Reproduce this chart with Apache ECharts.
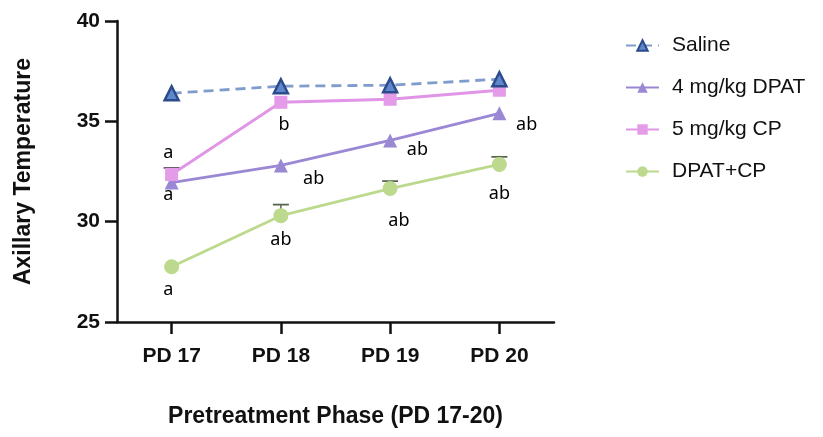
<!DOCTYPE html>
<html>
<head>
<meta charset="utf-8">
<script src="https://cdn.jsdelivr.net/npm/echarts@6/dist/echarts.min.js"></script>
<style>
  html, body { margin: 0; padding: 0; background: #fff; }
  #chart { width: 823px; height: 437px; }
</style>
</head>
<body>
<div id="chart"></div>
<script>
// ---- data ----
const categories = ['PD 17', 'PD 18', 'PD 19', 'PD 20'];
const yTicks = [25, 30, 35, 40];
const seriesNames = ['Saline', '4 mg/kg DPAT', '5 mg/kg CP', 'DPAT+CP'];
const saline = [36.4, 36.75, 36.8, 37.1];
const dpat = [31.95, 32.8, 34.05, 35.4];
const cp = [32.35, 35.95, 36.1, 36.55];
const dpatCp = [27.75, 30.3, 31.65, 32.85];
const cpErrUp = [0.33, 0, 0, 0];
const dpatCpErrUp = [0, 0.55, 0.37, 0.38];
// significance letters: position on category scale, temperature value, text
const annotCat = [-0.03, -0.03, -0.03, 1.03, 1.30, 1.0, 2.25, 2.08, 3.25, 3.0];
const annotVal = [33.45, 31.35, 26.6, 34.8, 32.15, 29.1, 33.6, 30.05, 34.8, 31.4];
const annotText = ['a', 'a', 'a', 'b', 'ab', 'ab', 'ab', 'ab', 'ab', 'ab'];

const chart = echarts.init(document.getElementById('chart'), null, { renderer: 'canvas' });

function errorSeries(values, errs, color) {
  const data = values.map((v, i) => [i, v, v + errs[i], errs[i]]).filter(d => d[3] > 0);
  return {
    type: 'custom',
    xAxisIndex: 0, yAxisIndex: 0,
    z: 1,
    silent: true,
    data: data,
    renderItem: function (params, api) {
      const p0 = api.coord([api.value(0), api.value(1)]);
      const p1 = api.coord([api.value(0), api.value(2)]);
      const hw = 8;
      return {
        type: 'group',
        children: [
          { type: 'line', shape: { x1: p0[0], y1: p0[1], x2: p1[0], y2: p1[1] }, style: { stroke: color, lineWidth: 1.5 } },
          { type: 'line', shape: { x1: p1[0] - hw, y1: p1[1], x2: p1[0] + hw, y2: p1[1] }, style: { stroke: color, lineWidth: 1.8 } }
        ]
      };
    }
  };
}

const labelFont = 'Liberation Sans, Arial, Helvetica, sans-serif';

const option = {
  animation: false,
  backgroundColor: '#ffffff',
  grid: { left: 117, right: 269, top: 21, bottom: 115, containLabel: false },
  legend: {
    orient: 'vertical',
    left: 620,
    top: 30,
    itemWidth: 33,
    itemHeight: 13,
    itemGap: 21,
    data: seriesNames,
    textStyle: { fontFamily: labelFont, fontSize: 21, color: '#111', padding: [0, 0, 0, 8] }
  },
  xAxis: [{
    type: 'category',
    data: categories,
    boundaryGap: true,
    name: 'Pretreatment Phase (PD 17-20)',
    nameLocation: 'middle',
    nameGap: 83,
    nameTextStyle: { fontFamily: labelFont, fontSize: 23, fontWeight: 'bold', color: '#111' },
    axisLine: { show: true, onZero: false, lineStyle: { color: '#111', width: 2.5 } },
    axisTick: { show: true, alignWithLabel: true, length: 12, lineStyle: { color: '#111', width: 2.5 } },
    axisLabel: { fontFamily: labelFont, fontSize: 21, fontWeight: 'bold', color: '#111', margin: 24 },
    splitLine: { show: false }
  }, {
    type: 'value',
    min: -0.5, max: 3.5,
    show: false
  }],
  yAxis: {
    type: 'value',
    min: yTicks[0],
    max: yTicks[yTicks.length - 1],
    interval: 5,
    name: 'Axillary Temperature',
    nameLocation: 'middle',
    nameRotate: 90,
    nameGap: 82,
    nameTextStyle: { fontFamily: labelFont, fontSize: 23, fontWeight: 'bold', color: '#111' },
    axisLine: { show: true, onZero: false, lineStyle: { color: '#111', width: 2.5 } },
    axisTick: { show: true, length: 12, lineStyle: { color: '#111', width: 2.5 } },
    axisLabel: { fontFamily: labelFont, fontSize: 21, fontWeight: 'bold', color: '#111', margin: 17 },
    splitLine: { show: false }
  },
  series: [
    errorSeries(cp, cpErrUp, '#6e5a78'),
    errorSeries(dpatCp, dpatCpErrUp, '#5b6650'),
    {
      name: seriesNames[0], type: 'line', data: saline, z: 5,
      symbol: 'triangle', symbolSize: 14,
      lineStyle: { color: '#7f9ccc', width: 2.8, type: [10, 6] },
      itemStyle: { color: '#5f88cc', borderColor: '#2c4b8c', borderWidth: 2.5 }
    },
    {
      name: seriesNames[1], type: 'line', data: dpat, z: 3,
      symbol: 'triangle', symbolSize: 14,
      lineStyle: { color: '#9a88d4', width: 2.8 },
      itemStyle: { color: '#9a88d4' }
    },
    {
      name: seriesNames[2], type: 'line', data: cp, z: 4,
      symbol: 'rect', symbolSize: 13,
      lineStyle: { color: '#e095e6', width: 2.8 },
      itemStyle: { color: '#e49be8' }
    },
    {
      name: seriesNames[3], type: 'line', data: dpatCp, z: 2,
      symbol: 'circle', symbolSize: 15,
      lineStyle: { color: '#bcd98d', width: 2.8 },
      itemStyle: { color: '#bcd98d' }
    },
    {
      type: 'scatter',
      xAxisIndex: 1, yAxisIndex: 0,
      symbolSize: 0,
      silent: true,
      z: 6,
      data: annotCat.map((c, i) => ({ value: [c, annotVal[i]], name: annotText[i] })),
      label: {
        show: true,
        position: 'inside',
        formatter: p => p.name,
        fontFamily: '"Noto Sans", "Open Sans", sans-serif',
        fontSize: 18,
        color: '#000',
        textBorderWidth: 0,
        opacity: 1
      }
    }
  ]
};

chart.setOption(option);
</script>
</body>
</html>
